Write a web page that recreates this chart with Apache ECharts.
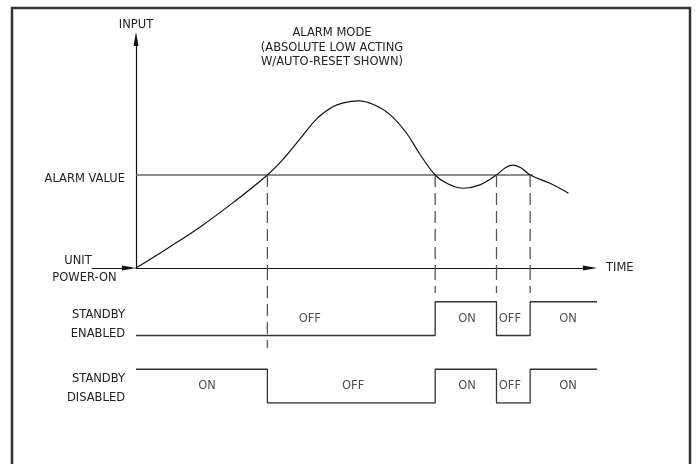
<!DOCTYPE html>
<html><head><meta charset="utf-8">
<script src="https://cdn.jsdelivr.net/npm/echarts@6/dist/echarts.min.js"></script>
<style>html,body{margin:0;padding:0;background:#fff}#c{width:696px;height:464px}</style>
</head><body><div id="c"></div>
<script>
// Input curve (time units 0..100 across the time axis, input units on the input axis)
const timeValues  = [0,6.8,14.0,21.3,28.5,32.1,35.7,39.3,42.7,45.0,48.2,51.5,55.1,58.7,61.6,64.9,67.4,71.0,74.6,78.2,80.2,81.8,83.5,85.5,89.8,93.8];
const inputValues = [0,8.3,17.5,28.1,39.4,46.5,55.0,63.4,68.3,70.0,70.8,69.3,65.0,57.1,48.2,39.4,35.9,33.8,35.2,39.4,42.6,43.6,42.5,39.4,35.9,31.7];
const alarmValue = 39.4;
const alarmLineEnd = 86.1;
const switchTimes = [28.5, 64.9, 78.2, 85.5];
const endTime = 100;
// Output states per interval between switch times
const enabledStates  = ['OFF','OFF','ON','OFF','ON'];
const disabledStates = ['ON','OFF','ON','OFF','ON'];
const enabledLabels = ['OFF','ON','OFF','ON'];
const enabledLabelTimes = [37.7, 71.8, 81.1, 93.7];
const disabledLabels = ['ON','OFF','ON','OFF','ON'];
const disabledLabelTimes = [15.4, 47.1, 71.8, 81.1, 93.7];
// depth reached by each dashed guide in the signal panel (panel levels 0..4)
const dashDepths = [1.63, 3.26, 3.26, 3.26];

const FONT = 'DejaVu Sans';
const FS = 11.5;
const TXT = '#222';

function stepData(states, base) {
  const bounds = [0, ...switchTimes, endTime];
  const pts = [];
  states.forEach((s, i) => {
    const y = base + (s === 'ON' ? 1 : 0);
    pts.push([bounds[i], y], [bounds[i + 1], y]);
  });
  return pts;
}

const series = [];
series.push({
  type: 'line', xAxisIndex: 0, yAxisIndex: 0, z: 2,
  data: [[0, alarmValue], [alarmLineEnd, alarmValue]],
  showSymbol: false, lineStyle: { color: '#666', width: 1.5 }, silent: true
});
series.push({
  type: 'line', xAxisIndex: 0, yAxisIndex: 0, z: 3,
  data: timeValues.map((t, i) => [t, inputValues[i]]),
  smooth: 0.4, showSymbol: false, silent: true,
  lineStyle: { color: '#111', width: 1.2 }
});
switchTimes.forEach((t, i) => {
  series.push({
    type: 'line', xAxisIndex: 0, yAxisIndex: 0, showSymbol: false, silent: true,
    data: [[t, alarmValue], [t, 0]],
    lineStyle: { color: '#555', width: 1.3, type: [12, 6] }
  });
  series.push({
    type: 'line', xAxisIndex: 1, yAxisIndex: 1, showSymbol: false, silent: true,
    data: [[t, 4], [t, dashDepths[i]]],
    lineStyle: { color: '#555', width: 1.3, type: [12, 6] }
  });
});
series.push({
  type: 'line', xAxisIndex: 1, yAxisIndex: 1, showSymbol: false, silent: true,
  data: stepData(enabledStates, 2), lineStyle: { color: '#333', width: 1.3 }
});
series.push({
  type: 'line', xAxisIndex: 1, yAxisIndex: 1, showSymbol: false, silent: true,
  data: stepData(disabledStates, 0), lineStyle: { color: '#333', width: 1.3 }
});
series.push({
  type: 'scatter', xAxisIndex: 1, yAxisIndex: 1, symbolSize: 0, silent: true,
  data: enabledLabels.map((s, i) => ({ name: s, value: [enabledLabelTimes[i], 2.5] }))
    .concat(disabledLabels.map((s, i) => ({ name: s, value: [disabledLabelTimes[i], 0.5] }))),
  label: { show: true, position: 'inside', formatter: '{b}', color: TXT, fontFamily: FONT, fontSize: FS }
});

function txt(text, x, y, align) {
  return { type: 'text', x, y, silent: true,
    style: { text, fill: TXT, fontFamily: FONT, fontSize: FS, align: align || 'right', verticalAlign: 'middle' } };
}

const arrowAxisLine = (w) => ({ show: true, onZero: false, symbol: ['none', 'triangle'], symbolSize: [5, 14], lineStyle: { color: '#111', width: w } });

const option = {
  animation: false,
  backgroundColor: '#fff',
  title: {
    text: 'ALARM MODE\n(ABSOLUTE LOW ACTING\nW/AUTO-RESET SHOWN)',
    left: 332, top: 26, padding: 0, textAlign: 'center',
    textStyle: { fontFamily: FONT, fontSize: FS, fontWeight: 'normal', color: TXT, lineHeight: 14.5 }
  },
  grid: [
    { left: 136, top: 39, width: 454, height: 229 },
    { left: 136, top: 268, width: 461, height: 135 },
    { left: 92, top: 200, width: 37, height: 68 }
  ],
  xAxis: [
    { type: 'value', gridIndex: 0, min: 0, max: 98.48,
      name: 'TIME', nameLocation: 'end', nameGap: 16,
      nameTextStyle: { fontFamily: FONT, fontSize: FS, color: TXT, padding: [0, 0, 8, 0] },
      axisLine: arrowAxisLine(1.2),
      axisTick: { show: false }, axisLabel: { show: false }, splitLine: { show: false } },
    { type: 'value', gridIndex: 1, min: 0, max: 100, show: false },
    { type: 'value', gridIndex: 2, min: 0, max: 1,
      axisLine: arrowAxisLine(1.2),
      axisTick: { show: false }, axisLabel: { show: false }, splitLine: { show: false } }
  ],
  yAxis: [
    { type: 'value', gridIndex: 0, min: 0, max: 97.03,
      name: 'INPUT', nameLocation: 'end', nameGap: 8,
      nameTextStyle: { fontFamily: FONT, fontSize: FS, color: TXT },
      axisLine: arrowAxisLine(1.2),
      axisTick: { show: false }, axisLabel: { show: false }, splitLine: { show: false } },
    { type: 'value', gridIndex: 1, min: 0, max: 4, show: false },
    { type: 'value', gridIndex: 2, min: 0, max: 1, show: false }
  ],
  graphic: [
    { type: 'rect', silent: true, shape: { x: 12, y: 8, width: 678, height: 480 },
      style: { fill: 'none', stroke: '#333', lineWidth: 2.5 } },
    txt('ALARM VALUE', 125, 179),
    txt('UNIT', 78, 261, 'center'),
    txt('POWER-ON', 84.5, 278, 'center'),
    txt('STANDBY', 125, 315),
    txt('ENABLED', 125, 334),
    txt('STANDBY', 125, 379),
    txt('DISABLED', 125, 398)
  ],
  series
};
echarts.init(document.getElementById('c')).setOption(option);
</script>
</body></html>
